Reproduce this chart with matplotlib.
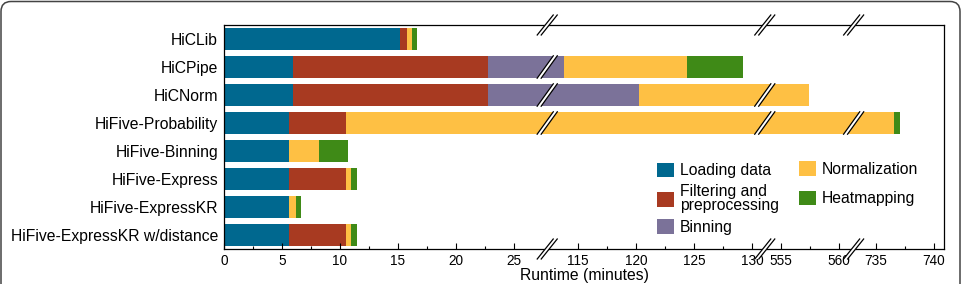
import numpy as np
import matplotlib
matplotlib.use("Agg")
import matplotlib.pyplot as plt
from matplotlib.patches import Polygon, FancyBboxPatch, Patch
from matplotlib.lines import Line2D
from matplotlib.transforms import IdentityTransform

plt.rcParams['font.family'] = ['Liberation Sans', 'DejaVu Sans']

# ---------------- data ----------------
methods = ["HiCLib", "HiCPipe", "HiCNorm", "HiFive-Probability", "HiFive-Binning",
           "HiFive-Express", "HiFive-ExpressKR", "HiFive-ExpressKR w/distance"]
stages = ["Loading data", "Filtering and\npreprocessing", "Binning",
          "Normalization", "Heatmapping"]
loading = [15.2, 5.92, 5.92, 5.63, 5.63, 5.63, 5.63, 5.63]
filtering = [0.6, 16.84, 16.84, 4.92, 0.0, 4.92, 0.0, 4.92]
binning = [0.0, 90.97, 97.46, 0.0, 0.0, 0.0, 0.0, 0.0]
normalization = [0.45, 10.62, 437.25, 726.01, 2.56, 0.43, 0.55, 0.43]
heatmapping = [0.38, 4.85, 0.0, 0.47, 2.5, 0.49, 0.46, 0.49]
colors = ["#00688f", "#a83a21", "#7b7299", "#fec044", "#3f8a17"]

# broken axis segments (minutes)
seg_lo = [0.0, 112.32, 553.62, 733.07]
seg_hi = [27.9, 131.1, 561.29, 740.87]
major_ticks = [0, 5, 10, 15, 20, 25, 115, 120, 125, 130, 555, 560, 735, 740]
minor_ticks = [2.5, 7.5, 12.5, 17.5, 22.5, 117.5, 122.5, 127.5, 557.5, 737.5]

# ---------------- piecewise scale ----------------
seg_lo_a = np.array(seg_lo)
seg_len = np.array(seg_hi) - seg_lo_a
cstart = np.concatenate([[0.0], np.cumsum(seg_len)[:-1]])


def fwd(x):
    x = np.asarray(x, dtype=float)
    i = np.clip(np.searchsorted(seg_lo_a, x, side='right') - 1, 0, len(seg_lo) - 1)
    return cstart[i] + np.minimum(x - seg_lo_a[i], seg_len[i])


def inv(y):
    y = np.asarray(y, dtype=float)
    i = np.clip(np.searchsorted(cstart, y, side='right') - 1, 0, len(seg_lo) - 1)
    return seg_lo_a[i] + (y - cstart[i])


W, H = 965, 284
fig = plt.figure(figsize=(W / 100, H / 100), dpi=100)
ax = fig.add_axes([224 / W, 1 - 249 / H, 720 / W, 224 / H])
ax.set_xscale('function', functions=(fwd, inv))

series = [loading, filtering, binning, normalization, heatmapping]
ypos = np.arange(len(methods))
left = np.zeros(len(methods))
for vals, col, lab in zip(series, colors, stages):
    v = np.array(vals)
    ax.barh(ypos, v, left=left, height=0.8, color=col, linewidth=0, label=lab)
    left = left + v
totals = left

ax.set_xlim(seg_lo[0], seg_hi[-1])
ax.set_ylim(len(methods) - 0.5, -0.5)
ax.set_yticks(ypos)
ax.set_yticklabels(methods, fontsize=11.3)
ax.tick_params(axis='y', length=0, pad=4.3)
ax.set_xticks(major_ticks)
ax.set_xticklabels([str(t) for t in major_ticks], fontsize=9.8)
ax.set_xticks(minor_ticks, minor=True)
ax.tick_params(axis='x', which='major', direction='in', length=4.3, width=0.8, pad=3.5)
ax.tick_params(axis='x', which='minor', direction='in', length=2.3, width=0.8)
ax.set_xlabel("Runtime (minutes)", fontsize=11.3, labelpad=0)
for s in ax.spines.values():
    s.set_linewidth(0.9)

# ---------------- legend ----------------
handles = [Patch(facecolor=c, edgecolor='none') for c in colors]
common = dict(frameon=False, borderpad=0, borderaxespad=0, handlelength=1.06,
              handleheight=1.06, handletextpad=0.4, fontsize=11.3,
              bbox_transform=ax.transAxes, loc='upper left')
leg1 = ax.legend(handles[:3], stages[:3], bbox_to_anchor=(0.6018, 0.3855),
                 labelspacing=0.37, **common)
for t in leg1.get_texts():
    t.set_linespacing(0.92)
ax.add_artist(leg1)
leg2 = ax.legend(handles[3:], stages[3:], bbox_to_anchor=(0.799, 0.3925),
                 labelspacing=0.88, **common)

# ---------------- break marks ----------------
def mark(xd, yb, yt, slope=0.72, gap=4.0):
    xc = ax.transData.transform((xd, 0))[0]
    s = (yt - yb) * slope
    pts = [(xc - s / 2 - gap / 2, yb), (xc - s / 2 + gap / 2, yb),
           (xc + s / 2 + gap / 2, yt), (xc + s / 2 - gap / 2, yt)]
    fig.add_artist(Polygon(pts, closed=True, facecolor='white', edgecolor='none',
                           transform=IdentityTransform(), zorder=5))
    for k in (-1, 1):
        fig.add_artist(Line2D([xc - s / 2 + k * gap / 2, xc + s / 2 + k * gap / 2],
                              [yb, yt], color='black', lw=0.9,
                              transform=IdentityTransform(), zorder=6))


ax_bottom = H - 249
ax_top = H - 25
for i in range(len(seg_lo) - 1):
    xb = seg_hi[i]
    mark(xb, ax_top - 10, ax_top + 10, slope=0.8)
    mark(xb, ax_bottom - 10, ax_bottom + 10, slope=0.8)
    for j, tot in enumerate(totals):
        if tot > seg_lo[i + 1]:
            yb = ax.transData.transform((0, ypos[j] + 0.4))[1]
            yt = ax.transData.transform((0, ypos[j] - 0.4))[1]
            mark(xb, yb, yt)

# ---------------- outer frame ----------------
fig.add_artist(FancyBboxPatch((1.0, -40), 959.0, 282.5 + 40,
                              boxstyle="round,pad=0,rounding_size=10",
                              transform=IdentityTransform(), facecolor='none',
                              edgecolor='#444444', lw=1.1, zorder=10))

fig.savefig("out.png", dpi=100)
